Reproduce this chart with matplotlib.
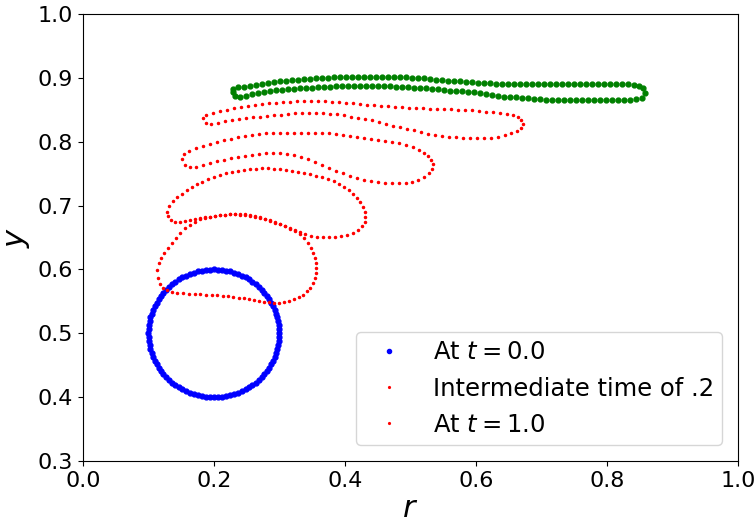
import matplotlib
matplotlib.use("Agg")
import matplotlib.pyplot as plt
import numpy as np

# initial circle (t = 0.0)
circle_r = [
    0.3000, 0.2998, 0.2992, 0.2982, 0.2969, 0.2951, 0.2930, 0.2905, 0.2876, 0.2844,
    0.2809, 0.2771, 0.2729, 0.2685, 0.2637, 0.2588, 0.2536, 0.2482, 0.2426, 0.2368,
    0.2309, 0.2249, 0.2187, 0.2125, 0.2063, 0.2000, 0.1937, 0.1875, 0.1813, 0.1751,
    0.1691, 0.1632, 0.1574, 0.1518, 0.1464, 0.1412, 0.1363, 0.1315, 0.1271, 0.1229,
    0.1191, 0.1156, 0.1124, 0.1095, 0.1070, 0.1049, 0.1031, 0.1018, 0.1008, 0.1002,
    0.1000, 0.1002, 0.1008, 0.1018, 0.1031, 0.1049, 0.1070, 0.1095, 0.1124, 0.1156,
    0.1191, 0.1229, 0.1271, 0.1315, 0.1363, 0.1412, 0.1464, 0.1518, 0.1574, 0.1632,
    0.1691, 0.1751, 0.1813, 0.1875, 0.1937, 0.2000, 0.2063, 0.2125, 0.2187, 0.2249,
    0.2309, 0.2368, 0.2426, 0.2482, 0.2536, 0.2588, 0.2637, 0.2685, 0.2729, 0.2771,
    0.2809, 0.2844, 0.2876, 0.2905, 0.2930, 0.2951, 0.2969, 0.2982, 0.2992, 0.2998]
circle_y = [
    0.5000, 0.5063, 0.5125, 0.5187, 0.5249, 0.5309, 0.5368, 0.5426, 0.5482, 0.5536,
    0.5588, 0.5637, 0.5685, 0.5729, 0.5771, 0.5809, 0.5844, 0.5876, 0.5905, 0.5930,
    0.5951, 0.5969, 0.5982, 0.5992, 0.5998, 0.6000, 0.5998, 0.5992, 0.5982, 0.5969,
    0.5951, 0.5930, 0.5905, 0.5876, 0.5844, 0.5809, 0.5771, 0.5729, 0.5685, 0.5637,
    0.5588, 0.5536, 0.5482, 0.5426, 0.5368, 0.5309, 0.5249, 0.5187, 0.5125, 0.5063,
    0.5000, 0.4937, 0.4875, 0.4813, 0.4751, 0.4691, 0.4632, 0.4574, 0.4518, 0.4464,
    0.4412, 0.4363, 0.4315, 0.4271, 0.4229, 0.4191, 0.4156, 0.4124, 0.4095, 0.4070,
    0.4049, 0.4031, 0.4018, 0.4008, 0.4002, 0.4000, 0.4002, 0.4008, 0.4018, 0.4031,
    0.4049, 0.4070, 0.4095, 0.4124, 0.4156, 0.4191, 0.4229, 0.4271, 0.4315, 0.4363,
    0.4412, 0.4464, 0.4518, 0.4574, 0.4632, 0.4691, 0.4751, 0.4813, 0.4875, 0.4937]

# intermediate interfaces, (r, y)
loop_a = [
    (0.113, 0.599), (0.115, 0.587), (0.118, 0.577), (0.122, 0.571), (0.128, 0.568),
    (0.136, 0.565), (0.144, 0.563), (0.153, 0.563), (0.162, 0.562), (0.171, 0.562),
    (0.179, 0.562), (0.188, 0.560), (0.197, 0.560), (0.205, 0.560), (0.214, 0.558),
    (0.221, 0.558), (0.229, 0.557), (0.238, 0.555), (0.246, 0.555), (0.253, 0.554),
    (0.261, 0.552), (0.269, 0.551), (0.276, 0.549), (0.284, 0.549), (0.292, 0.547),
    (0.299, 0.547), (0.307, 0.549), (0.315, 0.551), (0.322, 0.554), (0.330, 0.557),
    (0.336, 0.560), (0.342, 0.566), (0.347, 0.571), (0.351, 0.579), (0.354, 0.587),
    (0.356, 0.594), (0.356, 0.602), (0.356, 0.610), (0.354, 0.618), (0.351, 0.626),
    (0.348, 0.634), (0.344, 0.641), (0.337, 0.649), (0.331, 0.655), (0.324, 0.660),
    (0.316, 0.663), (0.308, 0.668), (0.301, 0.671), (0.293, 0.673), (0.285, 0.676),
    (0.278, 0.679), (0.270, 0.681), (0.263, 0.682), (0.255, 0.684), (0.247, 0.685),
    (0.240, 0.685), (0.232, 0.687), (0.224, 0.687), (0.217, 0.685), (0.209, 0.685),
    (0.202, 0.684), (0.194, 0.682), (0.186, 0.681), (0.179, 0.679), (0.171, 0.674),
    (0.163, 0.670), (0.156, 0.665), (0.148, 0.657), (0.142, 0.649), (0.136, 0.641),
    (0.130, 0.634), (0.124, 0.626), (0.119, 0.618), (0.116, 0.610)]

loop_b = [
    (0.128, 0.690), (0.131, 0.699), (0.137, 0.707), (0.144, 0.713), (0.151, 0.718),
    (0.159, 0.724), (0.166, 0.729), (0.174, 0.734), (0.182, 0.737), (0.191, 0.742),
    (0.200, 0.745), (0.209, 0.748), (0.218, 0.751), (0.227, 0.753), (0.237, 0.754),
    (0.246, 0.756), (0.255, 0.757), (0.264, 0.757), (0.273, 0.759), (0.282, 0.759),
    (0.292, 0.757), (0.301, 0.757), (0.310, 0.756), (0.319, 0.754), (0.328, 0.753),
    (0.337, 0.751), (0.347, 0.749), (0.356, 0.746), (0.365, 0.745), (0.374, 0.742),
    (0.383, 0.738), (0.391, 0.734), (0.398, 0.729), (0.406, 0.724), (0.412, 0.718),
    (0.418, 0.712), (0.423, 0.706), (0.427, 0.698), (0.431, 0.690), (0.431, 0.682),
    (0.431, 0.674), (0.426, 0.668), (0.420, 0.662), (0.412, 0.657), (0.403, 0.654),
    (0.394, 0.652), (0.385, 0.651), (0.376, 0.651), (0.366, 0.651), (0.357, 0.651),
    (0.348, 0.652), (0.339, 0.655), (0.331, 0.659), (0.324, 0.662), (0.316, 0.665),
    (0.308, 0.668), (0.301, 0.671), (0.293, 0.674), (0.285, 0.677), (0.278, 0.679),
    (0.270, 0.682), (0.263, 0.684), (0.255, 0.685), (0.247, 0.687), (0.240, 0.687),
    (0.232, 0.687), (0.224, 0.687), (0.217, 0.685), (0.209, 0.685), (0.202, 0.684),
    (0.194, 0.682), (0.186, 0.682), (0.179, 0.681), (0.171, 0.679), (0.163, 0.677),
    (0.156, 0.676), (0.148, 0.674), (0.140, 0.674), (0.134, 0.677), (0.130, 0.684)]

loop_c = [
    (0.151, 0.773), (0.154, 0.781), (0.162, 0.785), (0.173, 0.790), (0.183, 0.793),
    (0.194, 0.796), (0.205, 0.800), (0.215, 0.803), (0.226, 0.804), (0.237, 0.807),
    (0.247, 0.809), (0.258, 0.811), (0.269, 0.812), (0.279, 0.814), (0.290, 0.814),
    (0.301, 0.814), (0.311, 0.814), (0.322, 0.814), (0.333, 0.814), (0.344, 0.814),
    (0.354, 0.814), (0.365, 0.814), (0.376, 0.814), (0.386, 0.812), (0.397, 0.811),
    (0.408, 0.809), (0.418, 0.807), (0.429, 0.806), (0.440, 0.804), (0.450, 0.803),
    (0.461, 0.801), (0.472, 0.800), (0.482, 0.798), (0.493, 0.795), (0.504, 0.792),
    (0.513, 0.787), (0.521, 0.782), (0.527, 0.778), (0.531, 0.771), (0.534, 0.765),
    (0.533, 0.757), (0.528, 0.751), (0.521, 0.745), (0.511, 0.740), (0.502, 0.737),
    (0.493, 0.735), (0.482, 0.735), (0.472, 0.735), (0.461, 0.735), (0.450, 0.737),
    (0.440, 0.738), (0.429, 0.740), (0.418, 0.743), (0.408, 0.746), (0.397, 0.751),
    (0.386, 0.754), (0.376, 0.759), (0.365, 0.764), (0.354, 0.768), (0.344, 0.773),
    (0.333, 0.776), (0.322, 0.779), (0.311, 0.781), (0.301, 0.782), (0.290, 0.782),
    (0.279, 0.782), (0.269, 0.781), (0.258, 0.779), (0.247, 0.778), (0.237, 0.776),
    (0.226, 0.774), (0.215, 0.771), (0.205, 0.770), (0.194, 0.767), (0.183, 0.764),
    (0.173, 0.760), (0.163, 0.760), (0.156, 0.764)]

loop_d = [
    (0.183, 0.837), (0.188, 0.842), (0.198, 0.845), (0.209, 0.848), (0.220, 0.850),
    (0.231, 0.853), (0.241, 0.854), (0.252, 0.856), (0.263, 0.857), (0.273, 0.859),
    (0.284, 0.861), (0.295, 0.861), (0.305, 0.862), (0.316, 0.862), (0.327, 0.864),
    (0.337, 0.864), (0.348, 0.864), (0.359, 0.864), (0.369, 0.864), (0.380, 0.862),
    (0.391, 0.862), (0.402, 0.861), (0.412, 0.861), (0.423, 0.859), (0.434, 0.857),
    (0.444, 0.857), (0.455, 0.856), (0.466, 0.856), (0.476, 0.854), (0.487, 0.854),
    (0.498, 0.853), (0.508, 0.853), (0.519, 0.853), (0.530, 0.851), (0.540, 0.851),
    (0.551, 0.851), (0.562, 0.851), (0.573, 0.850), (0.583, 0.850), (0.594, 0.850),
    (0.605, 0.848), (0.615, 0.847), (0.626, 0.847), (0.637, 0.845), (0.647, 0.843),
    (0.656, 0.842), (0.664, 0.839), (0.669, 0.834), (0.672, 0.828), (0.669, 0.821),
    (0.663, 0.817), (0.653, 0.814), (0.644, 0.811), (0.634, 0.807), (0.623, 0.806),
    (0.612, 0.806), (0.602, 0.806), (0.591, 0.806), (0.580, 0.806), (0.569, 0.807),
    (0.559, 0.807), (0.548, 0.809), (0.537, 0.811), (0.527, 0.812), (0.516, 0.815),
    (0.505, 0.818), (0.495, 0.820), (0.484, 0.823), (0.473, 0.825), (0.463, 0.828),
    (0.452, 0.831), (0.441, 0.834), (0.431, 0.836), (0.420, 0.837), (0.409, 0.839),
    (0.398, 0.842), (0.388, 0.843), (0.377, 0.843), (0.366, 0.845), (0.356, 0.845),
    (0.345, 0.845), (0.334, 0.845), (0.324, 0.845), (0.313, 0.843), (0.302, 0.842),
    (0.292, 0.842), (0.281, 0.840), (0.270, 0.839), (0.260, 0.839), (0.249, 0.837),
    (0.238, 0.836), (0.227, 0.834), (0.217, 0.832), (0.206, 0.829), (0.195, 0.828),
    (0.188, 0.829)]

# final interface (t = 1.0)
final_shape = [
    (0.229, 0.883), (0.237, 0.886), (0.246, 0.886), (0.255, 0.887), (0.264, 0.889),
    (0.273, 0.890), (0.282, 0.892), (0.292, 0.893), (0.301, 0.895), (0.310, 0.895),
    (0.319, 0.897), (0.328, 0.897), (0.337, 0.898), (0.347, 0.898), (0.356, 0.900),
    (0.365, 0.900), (0.374, 0.900), (0.383, 0.901), (0.392, 0.901), (0.402, 0.901),
    (0.411, 0.901), (0.420, 0.901), (0.429, 0.901), (0.438, 0.901), (0.447, 0.901),
    (0.456, 0.901), (0.466, 0.901), (0.475, 0.901), (0.484, 0.901), (0.493, 0.901),
    (0.502, 0.900), (0.511, 0.900), (0.521, 0.900), (0.530, 0.898), (0.539, 0.897),
    (0.548, 0.897), (0.557, 0.895), (0.566, 0.895), (0.576, 0.895), (0.585, 0.893),
    (0.594, 0.893), (0.603, 0.892), (0.612, 0.892), (0.621, 0.892), (0.631, 0.890),
    (0.640, 0.890), (0.649, 0.890), (0.658, 0.890), (0.667, 0.890), (0.676, 0.890),
    (0.685, 0.890), (0.695, 0.890), (0.704, 0.890), (0.713, 0.890), (0.722, 0.890),
    (0.731, 0.890), (0.740, 0.890), (0.750, 0.890), (0.759, 0.890), (0.768, 0.890),
    (0.777, 0.890), (0.786, 0.890), (0.795, 0.890), (0.805, 0.890), (0.814, 0.890),
    (0.823, 0.890), (0.832, 0.890), (0.841, 0.889), (0.849, 0.887), (0.855, 0.884),
    (0.858, 0.876), (0.853, 0.868), (0.844, 0.867), (0.835, 0.865), (0.826, 0.865),
    (0.817, 0.865), (0.808, 0.865), (0.798, 0.865), (0.789, 0.865), (0.780, 0.865),
    (0.771, 0.865), (0.762, 0.865), (0.753, 0.865), (0.744, 0.865), (0.734, 0.865),
    (0.725, 0.865), (0.716, 0.865), (0.707, 0.865), (0.698, 0.867), (0.689, 0.867),
    (0.679, 0.868), (0.670, 0.868), (0.661, 0.870), (0.652, 0.870), (0.643, 0.870),
    (0.634, 0.872), (0.624, 0.873), (0.615, 0.875), (0.606, 0.876), (0.597, 0.878),
    (0.588, 0.878), (0.579, 0.879), (0.569, 0.879), (0.560, 0.879), (0.551, 0.881),
    (0.542, 0.883), (0.533, 0.883), (0.524, 0.884), (0.515, 0.884), (0.505, 0.884),
    (0.496, 0.886), (0.487, 0.886), (0.478, 0.886), (0.469, 0.887), (0.460, 0.887),
    (0.450, 0.887), (0.441, 0.887), (0.432, 0.887), (0.423, 0.887), (0.414, 0.887),
    (0.405, 0.887), (0.395, 0.887), (0.386, 0.887), (0.377, 0.886), (0.368, 0.886),
    (0.359, 0.886), (0.350, 0.884), (0.340, 0.884), (0.331, 0.884), (0.322, 0.883),
    (0.313, 0.883), (0.304, 0.881), (0.295, 0.881), (0.285, 0.879), (0.276, 0.878),
    (0.267, 0.876), (0.258, 0.875), (0.249, 0.872), (0.240, 0.870), (0.232, 0.872),
    (0.229, 0.878)]

intermediate = [loop_a, loop_b, loop_c, loop_d]
red_labels = ['Intermediate time of .2', r'At $t = 1.0$', None, None]

fig = plt.figure(figsize=(7.54, 5.18), dpi=100)
ax = fig.add_axes([0.110, 0.110, 0.8687, 0.8629])

ax.plot(circle_r, circle_y, 'b.', markersize=7, label=r'At $t = 0.0$')
for loop, lab in zip(intermediate, red_labels):
    pts = np.array(loop)
    ax.plot(pts[:, 0], pts[:, 1], 'r.', markersize=3, label=lab)
pts = np.array(final_shape)
ax.plot(pts[:, 0], pts[:, 1], 'g.', markersize=7)

ax.set_xlim(0, 1)
ax.set_ylim(0.3, 1.0)
ax.set_xlabel(r'$r$', fontsize=22, labelpad=2)
ax.set_ylabel(r'$y$', fontsize=22)
ax.tick_params(labelsize=16)
ax.legend(loc='lower right', fontsize=17.5, borderaxespad=0.65,
          borderpad=0.35, markerscale=0.85)

fig.savefig('out.png', dpi=100)
